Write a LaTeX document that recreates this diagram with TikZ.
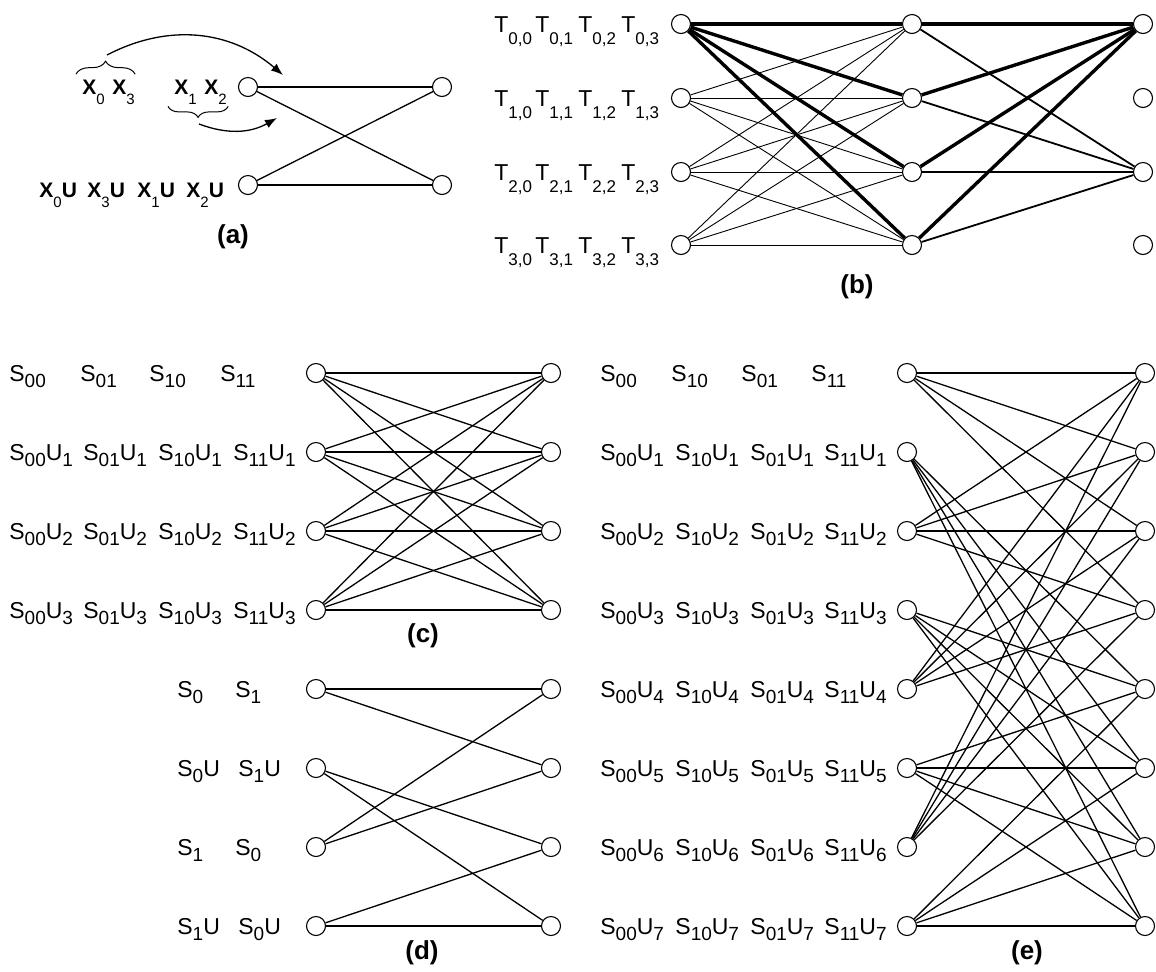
\documentclass[tikz,border=0pt]{standalone}
\usepackage{fontspec}
\setmainfont{Liberation Sans}
\usetikzlibrary{arrows.meta,decorations.pathreplacing}

% low subscripts of the three label kinds
\newcommand\subS[1]{\raisebox{-3.3pt}{\fontsize{9.5}{10}\selectfont #1}}
\newcommand\subT[1]{\raisebox{-6pt}{\fontsize{8.5}{9}\selectfont #1}}
\newcommand\subX[1]{\raisebox{-5pt}{\fontsize{7.5}{8}\selectfont\mdseries #1}}

\begin{document}
\begin{tikzpicture}[x=0.5pt, y=-0.5pt,
    vtx/.style={draw, circle, fill=white, minimum size=9.5pt, inner sep=0pt, line width=0.55pt},
    link/.style={line width=0.65pt},
    thinlink/.style={line width=0.45pt},
    midlink/.style={line width=0.9pt},
    boldlink/.style={line width=1.7pt},
    slab/.style={anchor=base west, inner sep=0pt, font=\fontsize{11.5}{13}\selectfont},
    xlab/.style={anchor=base west, inner sep=0pt, font=\fontsize{10.5}{12}\selectfont\bfseries},
    panel/.style={font=\fontsize{13}{15}\selectfont\bfseries},
    brc/.style={decorate, decoration={brace, amplitude=#1}, line width=0.5pt},
    arr/.style={-{Latex[length=6pt, width=4.5pt]}, line width=0.65pt}]
    \useasboundingbox (0,0) rectangle (1156,971);

    % (a)
    \node[vtx] (a-l0) at (248,87) {};
    \node[vtx] (a-l1) at (248,185) {};
    \node[vtx] (a-r0) at (442,87) {};
    \node[vtx] (a-r1) at (442,185) {};
    \foreach \i in {0,1}
        \foreach \j in {0,1}
            \draw[link] (a-l\i) -- (a-r\j);
    \node[xlab] (ax0) at (82,94) {X\subX{0}};
    \node[xlab] (ax3) at (112,94) {X\subX{3}};
    \node[xlab] (ax1) at (174,94) {X\subX{1}};
    \node[xlab] (ax2) at (204,94) {X\subX{2}};
    \node[xlab] (ax0u) at (39,197) {X\subX{0}U};
    \node[xlab] (ax3u) at (87,197) {X\subX{3}U};
    \node[xlab] (ax1u) at (137,197) {X\subX{1}U};
    \node[xlab] (ax2u) at (186,197) {X\subX{2}U};
    \draw[brc=6.5pt] ([shift={(-6,-5)}]ax0.north west) -- ([shift={(0,-5)}]ax3.north east);
    \draw[brc=5.5pt] ([shift={(1,2)}]ax2.south east) -- ([shift={(-6,2)}]ax1.south west);
    \coordinate (a-s1) at (107,55);
    \coordinate (a-e1) at (283,75);
    \coordinate (a-s2) at (199,124);
    \coordinate (a-e2) at (277,118);
    \draw[arr] (a-s1) to[bend left=34] (a-e1);
    \draw[arr] (a-s2) to[bend right=25] (a-e2);
    \node[panel] (a-cap) at (233,237) {(a)};

    % (b)
    \foreach \k/\y in {0/24,1/98,2/172,3/245} {
        \node[vtx] (b-l\k) at (681,\y) {};
        \node[vtx] (b-m\k) at (912,\y) {};
        \node[vtx] (b-r\k) at (1143,\y) {};
        \foreach \n/\x in {0/494,1/535,2/578,3/621}
            \node[slab] (b-t\k-\n) at (\x,\y+8) {T\subT{\k,\n}};
    }
    \foreach \j in {0,...,3} {
        \foreach \i in {1,2,3}
            \draw[thinlink] (b-l\i) -- (b-m\j);
        \draw[midlink] (b-m\j) -- (b-r2);
    }
    \foreach \j in {0,...,3} {
        \draw[boldlink] (b-l0) -- (b-m\j);
        \draw[boldlink] (b-m\j) -- (b-r0);
    }
    \node[panel] (b-cap) at (857,287) {(b)};

    % (c)
    \foreach \k in {0,...,3} {
        \node[vtx] (c-l\k) at (316,{373+79*\k}) {};
        \node[vtx] (c-r\k) at (551,{373+79*\k}) {};
    }
    \foreach \i in {0,...,3}
        \foreach \j in {0,...,3}
            \draw[link] (c-l\i) -- (c-r\j);
    \foreach \s/\x [count=\n from 0] in {00/9,01/80,10/149,11/220}
        \node[slab] (c-t0-\n) at (\x,381) {S\subS{\s}};
    \foreach \k in {1,2,3}
        \foreach \s/\x [count=\n from 0] in {00/9,01/83,10/158,11/233}
            \node[slab] (c-t\k-\n) at (\x,{381+79*\k}) {S\subS{\s}U\subS{\k}};
    \node[panel] (c-cap) at (423,636) {(c)};

    % (d)
    \foreach \k in {0,...,3} {
        \node[vtx] (d-l\k) at (316,{689+79*\k}) {};
        \node[vtx] (d-r\k) at (551,{689+79*\k}) {};
    }
    \foreach \i in {0,...,3} {
        \pgfmathtruncatemacro\off{2*mod(\i,2)}
        \foreach \j in {0,1} {
            \pgfmathtruncatemacro\t{\off+\j}
            \draw[link] (d-l\i) -- (d-r\t);
        }
    }
    \node[slab] (d-t0-0) at (177,697) {S\subS{0}};
    \node[slab] (d-t0-1) at (235,697) {S\subS{1}};
    \node[slab] (d-t1-0) at (177,776) {S\subS{0}U};
    \node[slab] (d-t1-1) at (238,776) {S\subS{1}U};
    \node[slab] (d-t2-0) at (177,855) {S\subS{1}};
    \node[slab] (d-t2-1) at (235,855) {S\subS{0}};
    \node[slab] (d-t3-0) at (177,934) {S\subS{1}U};
    \node[slab] (d-t3-1) at (238,934) {S\subS{0}U};
    \node[panel] (d-cap) at (422,953) {(d)};

    % (e)
    \foreach \k in {0,...,7} {
        \node[vtx] (e-l\k) at (907,{373+79*\k}) {};
        \node[vtx] (e-r\k) at (1145,{373+79*\k}) {};
    }
    \foreach \i in {0,...,7} {
        \pgfmathtruncatemacro\off{4*mod(\i,2)}
        \foreach \j in {0,...,3} {
            \pgfmathtruncatemacro\t{\off+\j}
            \draw[link] (e-l\i) -- (e-r\t);
        }
    }
    \foreach \s/\x [count=\n from 0] in {00/600,10/671,01/741,11/811}
        \node[slab] (e-t0-\n) at (\x,381) {S\subS{\s}};
    \foreach \k in {1,...,7}
        \foreach \s/\x [count=\n from 0] in {00/600,10/675,01/750,11/824}
            \node[slab] (e-t\k-\n) at (\x,{381+79*\k}) {S\subS{\s}U\subS{\k}};
    \node[panel] (e-cap) at (1027,953) {(e)};
\end{tikzpicture}
\end{document}
